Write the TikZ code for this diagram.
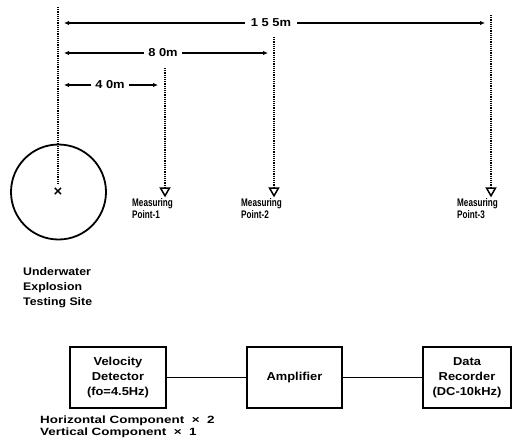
\documentclass[tikz,border=0pt]{standalone}
\usepackage{fontspec}
\setmainfont{Liberation Sans}
\newfontfamily\fa{Liberation Sans}[FakeStretch=0.74,UprightFont=* Bold,BoldFont=* Bold]
\newfontfamily\fb{Liberation Sans}[FakeStretch=1.12]
\newfontfamily\fc{Liberation Sans}[FakeStretch=1.28]
\usetikzlibrary{shapes.geometric,arrows.meta}
\begin{document}
\begin{tikzpicture}[x=1pt,y=-1pt,
  dim/.style={line width=1.7pt,{Latex[length=5pt,width=4.5pt]}-{Latex[length=5pt,width=4.5pt]}},
  vdot/.style={line width=1.6pt,dash pattern=on 1.2pt off 1pt},
  dimlab/.style={fill=white,inner sep=2pt,font=\fb\bfseries\fontsize{11.5}{13}\selectfont},
  boxnode/.style={draw,line width=1.8pt,minimum height=61pt,align=center,inner sep=0pt,
    font=\fb\bfseries\fontsize{11.5}{15}\selectfont},
  mpmark/.style={draw,line width=1.5pt,regular polygon,regular polygon sides=3,
    shape border rotate=180,minimum size=10.4pt,inner sep=0pt},
  mplab/.style={anchor=north west,align=left,inner sep=0pt,
    font=\fa\fontsize{11}{12.5}\selectfont},
  sitelab/.style={anchor=north west,align=left,inner sep=0pt,
    font=\fb\bfseries\fontsize{11}{15}\selectfont},
  notelab/.style={anchor=north west,align=left,inner sep=0pt,
    font=\fc\bfseries\fontsize{10.5}{12}\selectfont},
  link/.style={line width=1.6pt}
]
\useasboundingbox (0,0) rectangle (529,447);

% explosion site
\node[draw,circle,line width=1.8pt,minimum size=95pt,inner sep=0pt] (site) at (58.5,192) {};
\node[inner sep=0pt,font=\bfseries\fontsize{15}{15}\selectfont] (xmark) at (58,192) {×};
\coordinate (sitetop) at (58,7);
\coordinate (sitebot) at (58,184);
\draw[vdot] (sitetop) -- (sitebot);

% measuring points
\node[mpmark] (mp1) at (165,190.6) {};
\node[mpmark] (mp2) at (274,190.6) {};
\node[mpmark] (mp3) at (491,190.6) {};
\coordinate (mp1top) at (165,68);
\coordinate (mp2top) at (274,37);
\coordinate (mp3top) at (491,15);
\draw[vdot] (mp1top) -- (mp1.north);
\draw[vdot] (mp2top) -- (mp2.north);
\draw[vdot] (mp3top) -- (mp3.north);

\node[mplab] (lab1) at (132,198) {Measuring\\Point-1};
\node[mplab] (lab2) at (241,198) {Measuring\\Point-2};
\node[mplab] (lab3) at (457,198) {Measuring\\Point-3};

% dimensions
\coordinate (d155a) at (64,23);
\coordinate (d155b) at (485,23);
\draw[dim] (d155a) -- (d155b);
\node[dimlab,inner xsep=6pt] (l155) at (271,23) {1 5 5m};
\coordinate (d80a) at (64,53);
\coordinate (d80b) at (268,53);
\draw[dim] (d80a) -- (d80b);
\node[dimlab,inner xsep=4pt] (l80) at (163,53) {8 0m};
\coordinate (d40a) at (64,85);
\coordinate (d40b) at (158,85);
\draw[dim] (d40a) -- (d40b);
\node[dimlab,inner xsep=4pt] (l40) at (110,85) {4 0m};

\node[sitelab] (sitetext) at (23,267) {Underwater\\Explosion\\Testing Site};

% block diagram
\node[boxnode,minimum width=96pt] (vd) at (118,377.5) {Velocity\\Detector\\(fo=4.5Hz)};
\node[boxnode,minimum width=95pt] (amp) at (294.5,377.5) {Amplifier};
\node[boxnode,minimum width=88pt] (dr) at (467,377.5) {Data\\Recorder\\(DC-10kHz)};
\draw[link] (vd) -- (amp);
\draw[link] (amp) -- (dr);

\node[notelab] (note) at (40,416) {Horizontal Component \ ×\ \ 2\\Vertical Component \ ×\ \ 1};
\end{tikzpicture}
\end{document}
